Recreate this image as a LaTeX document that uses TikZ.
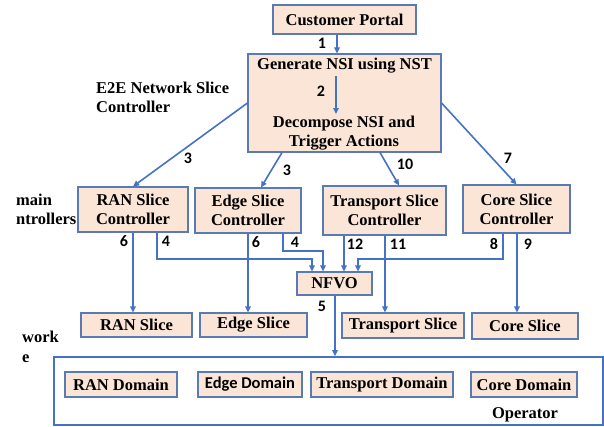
\documentclass[tikz,border=0pt]{standalone}
\usepackage{fontspec}
\setmainfont{Liberation Serif}
\newfontfamily\numfont{Carlito}
\usetikzlibrary{arrows.meta}
\definecolor{peach}{HTML}{FBE5D6}
\definecolor{boxline}{HTML}{5A7AB4}
\definecolor{arrowblue}{HTML}{4472C4}
\tikzset{
  box/.style={draw=boxline, fill=peach, line width=1.1pt, rectangle, inner sep=0pt,
    align=center, font=\fontsize{16.5}{19}\selectfont\bfseries},
  plain/.style={inner sep=0pt, align=center, font=\fontsize{16.5}{19}\selectfont\bfseries},
  leftlab/.style={inner sep=0pt, align=left, anchor=west, font=\fontsize{16.5}{19.5}\selectfont\bfseries},
  num/.style={inner sep=0pt, font=\fontsize{16}{18}\selectfont\numfont\bfseries},
  arr/.style={draw=arrowblue, line width=1.6pt, -{Triangle[length=6pt,width=5.5pt]}},
}
\begin{document}
\begin{tikzpicture}[x=1pt,y=-1pt]
\useasboundingbox (0,0) rectangle (604,426);
% top boxes
\node[box, minimum width=143pt, minimum height=29pt] (cp) at (344.5,19.5) {Customer Portal};
\node[box, minimum width=193pt, minimum height=98pt] (gen) at (344.5,103) {};
\node[plain] (gent) at (344.5,66) {Generate NSI using NST};
\node[plain] (dect) at (344,133) {Decompose NSI and\\Trigger Actions};
\node[leftlab] (e2e) at (96,97.5) {E2E Network Slice\\Controller};
% controllers
\node[box, minimum width=110pt, minimum height=45pt] (ranc) at (133,209.5) {RAN Slice\\Controller};
\node[box, minimum width=106pt, minimum height=45pt] (edgec) at (248,210.5) {Edge Slice\\Controller};
\node[box, minimum width=123pt, minimum height=49pt] (trc) at (384.5,210.5) {Transport Slice\\Controller};
\node[box, minimum width=107pt, minimum height=48pt] (corec) at (516.5,209) {Core Slice\\Controller};
\node[leftlab] (dc) at (16,209.5) {main\\ntrollers};
% nfvo
\node[box, minimum width=75pt, minimum height=23pt] (nfvo) at (334.5,283.5) {NFVO};
% slices
\node[box, minimum width=111pt, minimum height=24pt] (rans) at (136.5,325) {RAN Slice};
\node[box, minimum width=107pt, minimum height=24pt] (edges) at (253.5,325) {Edge Slice};
\node[box, minimum width=122pt, minimum height=25pt] (trs) at (403,325.5) {Transport Slice};
\node[box, minimum width=106pt, minimum height=26pt] (cores) at (525,326) {Core Slice};
\node[leftlab] (nw) at (22,347) {work\\e};
% operator
\node[draw=arrowblue, line width=1.6pt, rectangle, minimum width=549pt, minimum height=68pt, inner sep=0pt] (op) at (328.5,391) {};
\node[box, minimum width=112pt, minimum height=25pt] (rand) at (121,384.5) {RAN Domain};
\node[box, minimum width=104pt, minimum height=25pt, font=\fontsize{16.5}{19}\selectfont\numfont\bfseries] (edged) at (250,384.5) {Edge Domain};
\node[box, minimum width=142pt, minimum height=25pt] (trd) at (382,384.5) {Transport Domain};
\node[box, minimum width=106pt, minimum height=25pt] (cored) at (524,384.5) {Core Domain};
\node[plain] (opl) at (525,415) {Operator};
% arrows
\draw[arr] (cp.south -| 337,0) -- (gen.north -| 337,0);
\draw[arr] (336,76) -- (336,114);
\draw[arr] (gen.west) -- (ranc.north);
\draw[arr] (gen.south -| 282,0) -- (edgec.north -| 261,0);
\draw[arr] (gen.south -| 380,0) -- (trc.north -| 399,0);
\draw[arr] (gen.east) -- (corec.north);
\draw[arr] (ranc.south -| 133,0) -- (rans.north -| 133,0);
\draw[arr] (ranc.south -| 157,0) |- (312,259) -- (nfvo.north -| 312,0);
\draw[arr] (edgec.south) -- (edges.north -| edgec.south);
\draw[arr] (edgec.south -| 283,0) |- (323,251) -- (nfvo.north -| 323,0);
\draw[arr] (trc.south -| 344,0) -- (nfvo.north -| 344,0);
\draw[arr] (trc.south -| 385,0) -- (trs.north -| 385,0);
\draw[arr] (corec.south -| 503,0) |- (358,259) -- (nfvo.north -| 358,0);
\draw[arr] (corec.south -| 517,0) -- (cores.north -| 517,0);
\draw[arr] (nfvo.south -| 335,0) -- (op.north -| 335,0);
% labels
\node[num] (n1) at (322,43) {1};
\node[num] (n2) at (321,91) {2};
\node[num] (n3a) at (188,158) {3};
\node[num] (n3b) at (287,170) {3};
\node[num] (n10) at (405,164) {10};
\node[num] (n7) at (508,158) {7};
\node[num] (n6a) at (124,241) {6};
\node[num] (n4a) at (166,241) {4};
\node[num] (n6b) at (256,242) {6};
\node[num] (n4b) at (295,242) {4};
\node[num] (n12) at (355,244) {12};
\node[num] (n11) at (398,244) {11};
\node[num] (n8) at (494,244) {8};
\node[num] (n9) at (528,244) {9};
\node[num] (n5) at (322,306) {5};
\end{tikzpicture}
\end{document}
